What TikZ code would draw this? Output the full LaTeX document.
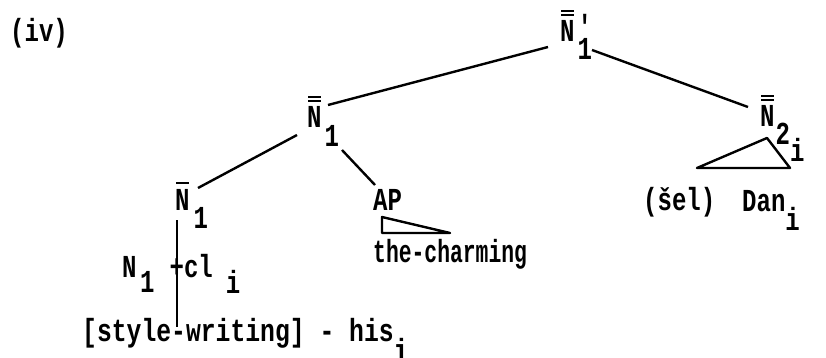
\documentclass[tikz,border=0pt]{standalone}
\usepackage{fontspec}
\setmainfont{Liberation Mono}[FakeStretch=0.75]
\newcommand\ovdouble[1]{\setbox0=\hbox{#1}\vbox{\offinterlineskip\hbox to\wd0{\hss\rule{0.85\wd0}{2pt}\hss}\kern2pt\hbox to\wd0{\hss\rule{0.85\wd0}{2pt}\hss}\kern4.5pt\box0}}
\newcommand\ovsingle[1]{\setbox0=\hbox{#1}\vbox{\offinterlineskip\hbox to\wd0{\hss\rule{0.85\wd0}{2pt}\hss}\kern5pt\box0}}
\newcommand\lowsub[2]{\raisebox{-#1pt}{#2}}
\tikzset{
  lab/.style={inner sep=0pt, anchor=base west, font=\fontsize{32}{34}\selectfont\bfseries},
  tree/.style={line width=2.4pt}
}
\begin{document}
\begin{tikzpicture}[x=1pt,y=-1pt]
\useasboundingbox (0,0) rectangle (826,358);
\node[lab] (iv) at (10,42) {(iv)};
\node[lab] (top) at (560,42) {\ovdouble{N}\kern3pt\rlap{\raisebox{4pt}{\textquotesingle}}\lowsub{18}{1}};
\node[lab] (mid) at (307,128) {\ovdouble{N}\kern3pt\lowsub{19}{1}};
\node[lab] (rt) at (760,127) {\ovdouble{N}\kern1pt\lowsub{18}{2}\lowsub{35}{i}};
\node[lab] (nb) at (175,210) {\ovsingle{N}\kern4pt\lowsub{18}{1}};
\node[lab] (ap) at (373,210) {AP};
\node[lab] (charm) at (373,262) {\scalebox{0.89}[1]{the-charming}};
\node[lab] (sel) at (643,210) {(\v{s}el)};
\node[lab] (dan) at (742,211) {Dan\lowsub{19}{i}};
\node[lab] (ncl) at (122,277) {N\kern3.6pt\lowsub{15}{1}\kern15pt+cl\kern13pt\lowsub{16}{i}};
\node[lab] (sw) at (82,341) {\scalebox{1.03}[1]{[style-writing] - his\lowsub{20}{i}}};
\draw[tree] ([shift={(-12,5)}]top.base west) -- ([shift={(21,-23)}]mid.base west);
\draw[tree] ([shift={(32,8)}]top.base west) -- ([shift={(-12,-20)}]rt.base west);
\draw[tree] ([shift={(-10,7)}]mid.base west) -- ([shift={(23,-22)}]nb.base west);
\draw[tree] ([shift={(35,22)}]mid.base west) -- ([shift={(2,-25)}]ap.base west);
\draw[tree] ([shift={(2,10)}]nb.base west) -- ([shift={(95,-14)}]sw.base west);
\draw[tree, line join=round] ([shift={(7,11)}]rt.base west) -- ([shift={(-63,41)}]rt.base west) -- ([shift={(30,41)}]rt.base west) -- cycle;
\draw[tree, line join=round] ([shift={(9,7)}]ap.base west) -- ([shift={(9,23)}]ap.base west) -- ([shift={(77,23)}]ap.base west) -- cycle;
\end{tikzpicture}
\end{document}
